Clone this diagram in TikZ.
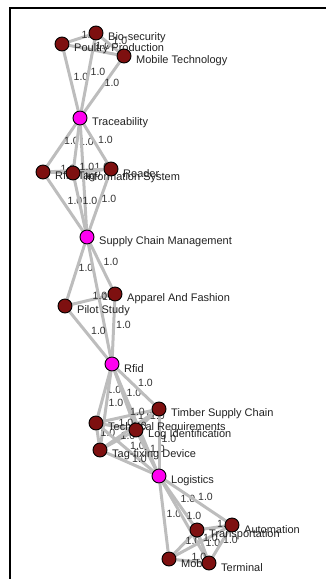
\documentclass[tikz,border=0pt]{standalone}
\usepackage{fontspec}
\setmainfont{Liberation Sans}
\definecolor{hubpink}{HTML}{FF00F0}
\definecolor{termred}{HTML}{7E1010}
\definecolor{edgegray}{HTML}{BDBDBD}
\definecolor{labelgray}{HTML}{222222}
\definecolor{wtgray}{HTML}{333333}
\pgfdeclarelayer{edgelayer}
\pgfdeclarelayer{textlayer}
\pgfsetlayers{edgelayer,textlayer,main}
\begin{document}
\begin{tikzpicture}[x=1pt,y=-1pt,
  hub/.style={circle,draw=black,line width=0.9pt,fill=hubpink,minimum size=14pt,inner sep=0pt},
  leaf/.style={hub,fill=termred},
  tag/.style={anchor=west,inner sep=0pt,font=\fontsize{11}{11}\selectfont,text=labelgray},
  link/.style={draw=edgegray,line width=3pt},
  wt/.style={font=\fontsize{10.5}{10.5}\selectfont,text=wtgray,inner sep=0pt,xshift=10pt,yshift=4pt}]
\useasboundingbox (0,0) rectangle (326,579);
% frame
\draw[line width=2pt] (9.5,579) -- (9.5,7.5) -- (326,7.5);

% nodes
\node[leaf] (poul)  at (62,44)  {};
\node[leaf] (bio)   at (96,33)  {};
\node[leaf] (mobt)  at (124,56) {};
\node[hub]  (trac)  at (80,118) {};
\node[leaf] (rtag)  at (43,172) {};
\node[leaf] (info)  at (73,173) {};
\node[leaf] (read)  at (111,169) {};
\node[hub]  (scm)   at (87,237) {};
\node[leaf] (app)   at (115,294) {};
\node[leaf] (pilot) at (65,306) {};
\node[hub]  (rfid)  at (112,364) {};
\node[leaf] (timb)  at (159,409) {};
\node[leaf] (tech)  at (96,423) {};
\node[leaf] (logid) at (136,430) {};
\node[leaf] (tagf)  at (100,450) {};
\node[hub]  (logi)  at (159,476) {};
\node[leaf] (trans) at (197,530) {};
\node[leaf] (auto)  at (232,525) {};
\node[leaf] (mob)   at (169,559) {};
\node[leaf] (term)  at (209,563) {};

% node captions
\begin{pgfonlayer}{textlayer}
\foreach \n/\t in {poul/Poultry Production, bio/Bio-security, mobt/Mobile Technology,
  trac/Traceability, rtag/Rfid Tag, info/Information System, read/Reader,
  scm/Supply Chain Management, app/Apparel And Fashion, pilot/Pilot Study,
  rfid/Rfid, timb/Timber Supply Chain, tech/Technical Requirements,
  logid/Log Identification, tagf/Tag-fixing Device, logi/Logistics,
  trans/Transportation, auto/Automation, mob/Mobile, term/Terminal}
  \node[tag] at ([xshift=12pt,yshift=-5pt]\n.center) {\t};
\end{pgfonlayer}

% weighted links
\begin{pgfonlayer}{edgelayer}
\foreach \a/\b in {trac/poul, trac/bio, trac/mobt, poul/bio, poul/mobt, bio/mobt,
  trac/rtag, trac/info, trac/read, trac/scm, rtag/info, info/read, rtag/read,
  rtag/scm, info/scm, read/scm,
  scm/pilot, scm/app, scm/rfid, pilot/app, pilot/rfid, app/rfid,
  rfid/tech, rfid/logid, rfid/timb, rfid/tagf, rfid/logi,
  tech/logid, tech/timb, tech/tagf, tech/logi, logid/timb, logid/tagf, logid/logi,
  timb/tagf, timb/logi, tagf/logi,
  logi/trans, logi/auto, logi/mob, logi/term, trans/auto, trans/mob, trans/term,
  auto/mob, auto/term, mob/term}
  \draw[link] (\a) -- node[wt] {1.0} (\b);
\end{pgfonlayer}
\end{tikzpicture}
\end{document}
